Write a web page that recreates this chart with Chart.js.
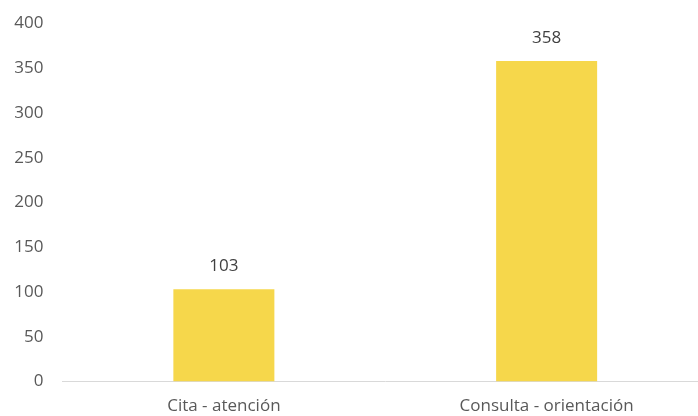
<!DOCTYPE html>
<html lang="es">
<head>
  <meta charset="UTF-8" />
  <title>Citas vs consultas</title>
  <script src="https://cdn.jsdelivr.net/npm/chart.js"></script>
  <style>
    html, body {
      margin: 0;
      padding: 0;
      background: #fff;
      overflow: hidden;
    }
    #wrap {
      position: relative;
      width: 708px;
      height: 416px;
    }
  </style>
</head>
<body>
  <div id="wrap"><canvas id="chart"></canvas></div>

  <script>
    const categories = ["Cita - atención", "Consulta - orientación"];
    const values = [103, 358];
    const yTicks = [0, 50, 100, 150, 200, 250, 300, 350, 400];

    const barColor = "#F6D74B";
    const textColor = "#595959";
    const font = "'Open Sans', sans-serif";

    // draws the value above each bar
    const valueLabels = {
      id: "valueLabels",
      afterDatasetsDraw(chart) {
        const ctx = chart.ctx;
        const meta = chart.getDatasetMeta(0);
        ctx.save();
        ctx.font = "17px " + font;
        ctx.fillStyle = "#404040";
        ctx.textAlign = "center";
        ctx.textBaseline = "middle";
        meta.data.forEach((bar, i) => {
          ctx.fillText(values[i], bar.x, bar.y - 23);
        });
        ctx.restore();
      }
    };

    new Chart(document.getElementById("chart"), {
      type: "bar",
      data: {
        labels: categories,
        datasets: [{
          data: values,
          backgroundColor: barColor,
          barPercentage: 0.313,
          categoryPercentage: 1
        }]
      },
      options: {
        responsive: true,
        maintainAspectRatio: false,
        animation: false,
        layout: { padding: { top: 23.5, right: 0, left: 0, bottom: 0 } },
        plugins: {
          legend: { display: false },
          tooltip: { enabled: false }
        },
        scales: {
          x: {
            grid: { display: false, drawTicks: false },
            border: { display: true, color: "#D9D9D9", width: 1 },
            ticks: {
              color: textColor,
              font: { family: font, size: 17 },
              padding: 14,
              maxRotation: 0
            },
            afterFit(scale) {
              scale.height = 34.5;
              scale.paddingLeft = 0;
              scale.paddingRight = 0;
            }
          },
          y: {
            min: 0,
            max: 400,
            afterBuildTicks(scale) {
              scale.ticks = yTicks.map(v => ({ value: v }));
            },
            grid: { display: false, drawTicks: false },
            border: { display: false },
            ticks: {
              color: textColor,
              font: { family: font, size: 17 },
              padding: 19
            },
            afterFit(scale) {
              scale.width = 62.5;
              scale.paddingTop = 0;
              scale.paddingBottom = 0;
            }
          }
        }
      },
      plugins: [valueLabels]
    });
  </script>
</body>
</html>
